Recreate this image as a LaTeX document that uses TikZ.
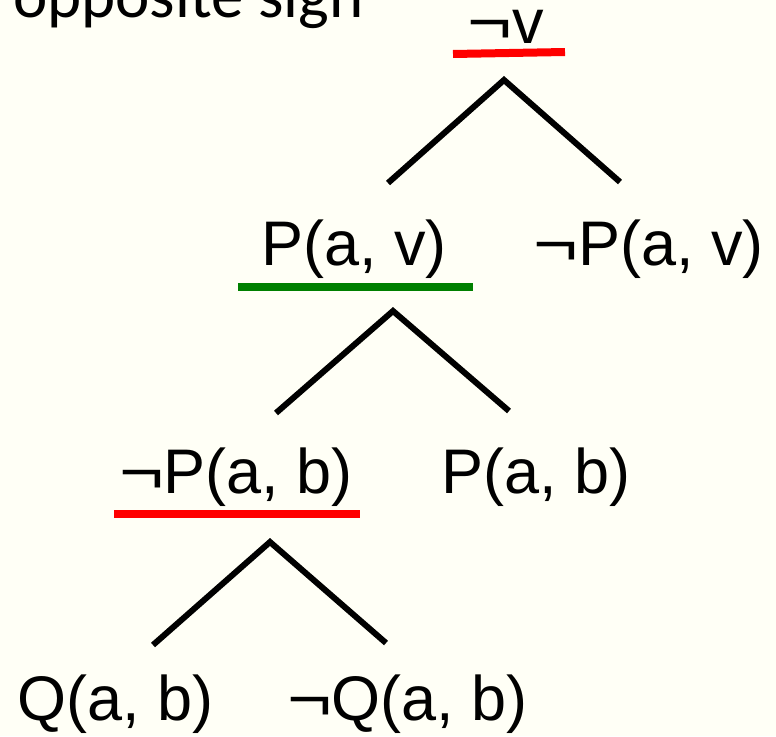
\documentclass[tikz,border=0pt]{standalone}
\usepackage{graphicx}
\usepackage{fontspec}
\setmainfont{Liberation Sans}
\newfontfamily\labelfont{Carlito}
\newcommand{\lneg}{\scalebox{1.22}[1]{¬}}
\definecolor{bgcream}{RGB}{255,255,246}
\definecolor{negred}{RGB}{255,0,0}
\definecolor{posgreen}{RGB}{0,128,0}
\begin{document}
\begin{tikzpicture}[x=1pt,y=-1pt,
  lit/.style={anchor=base,inner sep=0pt,font=\fontsize{63}{70}\selectfont},
  branch/.style={line width=6pt,black},
  underbar/.style={line width=8pt}
]
\fill[bgcream] (0,0) rectangle (776,736);
\useasboundingbox (0,0) rectangle (776,736);
\node[anchor=base west,inner sep=0pt,font=\labelfont\fontsize{65}{70}\selectfont] (title) at (13,17) {opposite sign};
% literals
\node[lit] (nv) at (505.5,43) {\lneg v};
\node[lit] (pav) at (354,265) {P(a, v)};
\node[lit] (npav) at (648.5,265) {\lneg P(a, v)};
\node[lit] (npab) at (236,493) {\lneg P(a, b)};
\node[lit] (pab) at (536,493) {P(a, b)};
\node[lit] (qab) at (116,720) {Q(a, b)};
\node[lit] (nqab) at (407.5,720) {\lneg Q(a, b)};
% underlines
\coordinate (u1a) at (453,54); \coordinate (u1b) at (565,52);
\coordinate (u2a) at (238,287); \coordinate (u2b) at (473,287);
\coordinate (u3a) at (114,514); \coordinate (u3b) at (360,514);
\draw[underbar,negred] (u1a) -- (u1b);
\draw[underbar,posgreen] (u2a) -- (u2b);
\draw[underbar,negred] (u3a) -- (u3b);
% branches
\coordinate (t1) at (504,80); \coordinate (t1l) at (388,183); \coordinate (t1r) at (620,182);
\coordinate (t2) at (393,311); \coordinate (t2l) at (276,413); \coordinate (t2r) at (509,411);
\coordinate (t3) at (270,542); \coordinate (t3l) at (153,645); \coordinate (t3r) at (386,643);
\draw[branch] (t1l) -- (t1) -- (t1r);
\draw[branch] (t2l) -- (t2) -- (t2r);
\draw[branch] (t3l) -- (t3) -- (t3r);
\end{tikzpicture}
\end{document}
